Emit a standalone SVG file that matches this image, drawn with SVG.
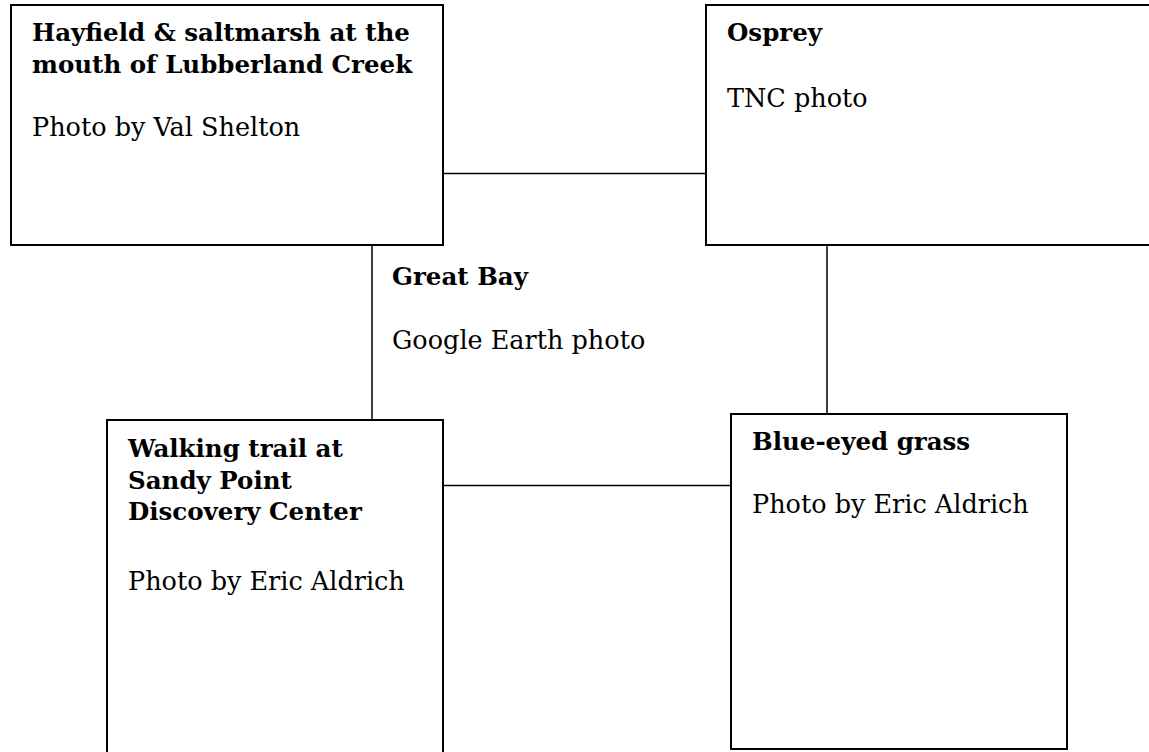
<svg xmlns="http://www.w3.org/2000/svg" width="1149" height="752" viewBox="0 0 1149 752">
<style>
.box{fill:#fff;stroke:#000;stroke-width:2}
.conn{fill:none;stroke:#000;stroke-width:1.5}
.t{font-family:"DejaVu Serif","Liberation Serif",serif;font-size:25.5px;fill:#000}
.b{font-weight:bold;font-size:24.5px}
</style>
<rect width="1149" height="752" fill="#fff"/>
<g id="connectors">
<line class="conn" x1="443" y1="173.5" x2="706" y2="173.5"/>
<line class="conn" x1="372" y1="245" x2="372" y2="420"/>
<line class="conn" x1="827" y1="245" x2="827" y2="414"/>
<line class="conn" x1="443" y1="485.5" x2="731" y2="485.5"/>
</g>
<g id="hayfield">
<rect class="box" x="11" y="5" width="432" height="240"/>
<text class="t b" x="32" y="41">Hayfield &amp; saltmarsh at the</text>
<text class="t b" x="32" y="72.5">mouth of Lubberland Creek</text>
<text class="t" x="32" y="135.5">Photo by Val Shelton</text>
</g>
<g id="osprey">
<rect class="box" x="706" y="5" width="460" height="240"/>
<text class="t b" x="727" y="41">Osprey</text>
<text class="t" x="727" y="106.5">TNC photo</text>
</g>
<g id="greatbay">
<text class="t b" x="392" y="285">Great Bay</text>
<text class="t" x="392" y="348.5">Google Earth photo</text>
</g>
<g id="walking">
<rect class="box" x="107" y="420" width="336" height="350"/>
<text class="t b" x="128" y="457">Walking trail at</text>
<text class="t b" x="128" y="488.5">Sandy Point</text>
<text class="t b" x="128" y="519.5">Discovery Center</text>
<text class="t" x="128" y="589.5">Photo by Eric Aldrich</text>
</g>
<g id="blueeyed">
<rect class="box" x="731" y="414" width="336" height="335"/>
<text class="t b" x="752" y="450">Blue-eyed grass</text>
<text class="t" x="752" y="513">Photo by Eric Aldrich</text>
</g>
</svg>
